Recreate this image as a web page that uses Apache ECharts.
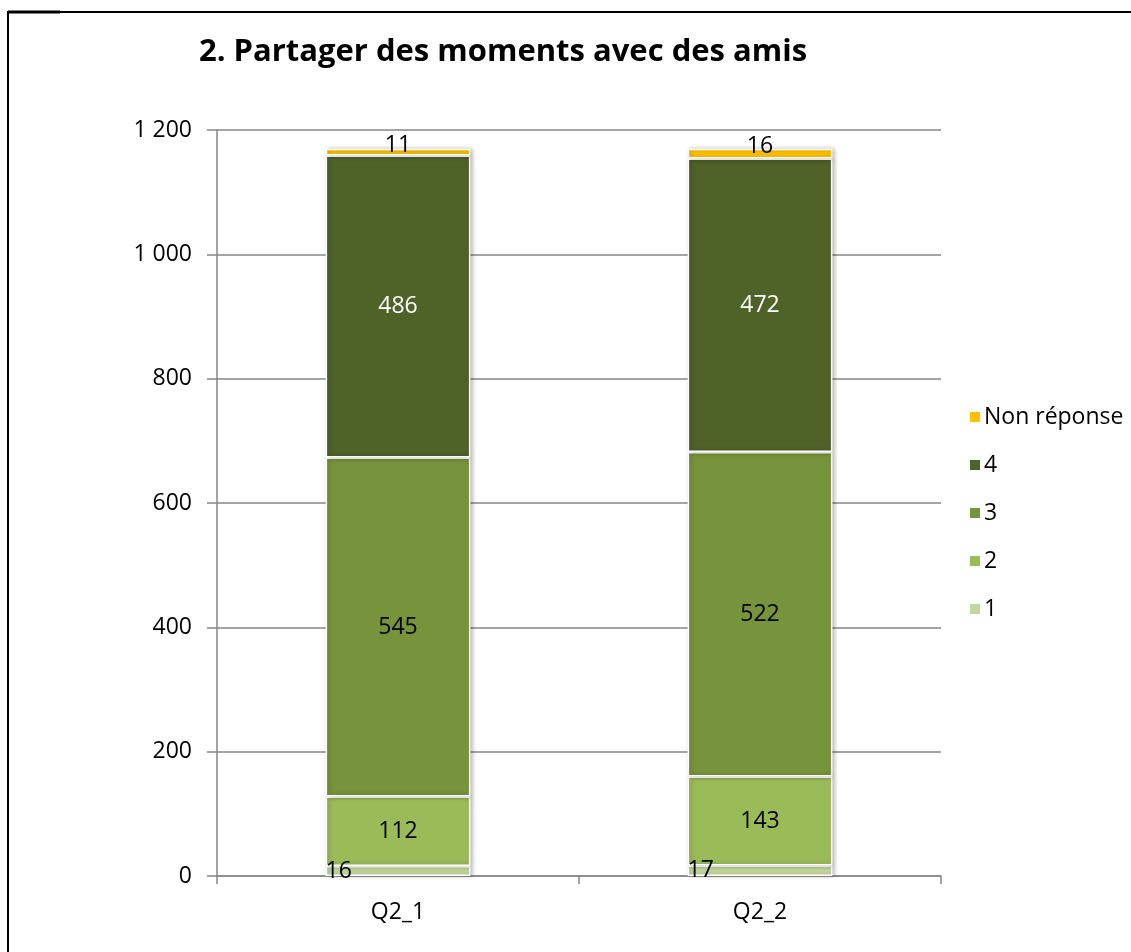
<!DOCTYPE html>
<html>
<head>
<meta charset="utf-8">
<script src="https://cdn.jsdelivr.net/npm/echarts@6/dist/echarts.min.js"></script>
<style>
  html, body { margin: 0; padding: 0; background: #fff; }
  #chart { width: 1131px; height: 952px; }
</style>
</head>
<body>
<div id="chart"></div>
<script>
const categories = ['Q2_1', 'Q2_2']
const seriesNames = ['1', '2', '3', '4', 'Non réponse']
const values1 = [16, 17]
const values2 = [112, 143]
const values3 = [545, 522]
const values4 = [486, 472]
const valuesNR = [11, 16]
const colors = ['#C3D69B', '#9BBB59', '#77933C', '#4F6228', '#FFC000']

const chart = echarts.init(document.getElementById('chart'))
const font = 'Open Sans, Noto Sans, sans-serif'

const allValues = [values1, values2, values3, values4, valuesNR]
const series = allValues.map((vals, i) => {
  const label = {
    show: true,
    position: 'inside',
    color: i === 3 ? '#fff' : '#000',
    fontFamily: font,
    fontSize: 23
  }
  if (i === 0) {
    label.position = 'insideLeft'
    label.distance = 0
  }
  if (i === 4) {
    label.offset = [0, -7]
  }
  return {
    name: seriesNames[i],
    type: 'bar',
    stack: 'total',
    barWidth: '40%',
    data: vals,
    itemStyle: {
      color: colors[i],
      borderColor: '#fff',
      borderWidth: 1.5,
      shadowColor: 'rgba(0,0,0,0.25)',
      shadowBlur: 4,
      shadowOffsetX: 2
    },
    label: label
  }
})

const option = {
  backgroundColor: '#fff',
  animation: false,
  title: {
    text: '2. Partager des moments avec des amis',
    left: 498,
    textAlign: 'center',
    top: 32,
    textStyle: {
      fontFamily: font,
      fontWeight: 'bold',
      fontSize: 31,
      color: '#000'
    }
  },
  legend: {
    orient: 'vertical',
    left: 963,
    top: 400,
    itemWidth: 12,
    itemHeight: 12,
    itemGap: 24,
    icon: 'rect',
    data: ['Non réponse', '4', '3', '2', '1'],
    textStyle: { fontFamily: font, fontSize: 23, lineHeight: 24, color: '#000', padding: [0, 0, 0, -2] }
  },
  grid: {
    left: 217,
    right: 190,
    top: 130,
    bottom: 76
  },
  xAxis: {
    type: 'category',
    data: categories,
    axisLine: { lineStyle: { color: '#868686', width: 1.5 } },
    axisTick: { show: true, length: 8, lineStyle: { color: '#868686', width: 1.5 } },
    axisLabel: { fontFamily: font, fontSize: 23, color: '#000', margin: 25 }
  },
  yAxis: {
    type: 'value',
    min: 0,
    max: 1200,
    interval: 200,
    axisLine: { show: true, lineStyle: { color: '#868686', width: 1.5 } },
    axisTick: { show: true, length: 10, lineStyle: { color: '#868686', width: 1.5 } },
    splitLine: { lineStyle: { color: '#868686', width: 1.5 } },
    axisLabel: {
      fontFamily: font,
      fontSize: 23,
      color: '#000',
      margin: 25,
      formatter: v => String(v).replace(/\B(?=(\d{3})+(?!\d))/g, ' ')
    }
  },
  graphic: [{
    type: 'rect',
    shape: { x: 8, y: 12, width: 1140, height: 960 },
    style: { fill: 'none', stroke: '#000', lineWidth: 2 }
  }, {
    type: 'line',
    shape: { x1: 8, y1: 12, x2: 60, y2: 12 },
    style: { stroke: '#000', lineWidth: 3 }
  }],
  series: series
}

chart.setOption(option)
</script>
</body>
</html>
